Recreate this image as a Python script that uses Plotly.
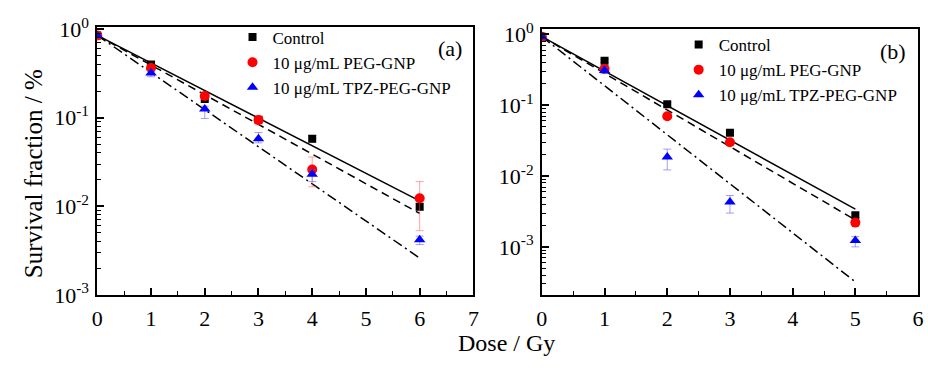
import plotly.graph_objects as go

# ---------------- data ----------------
names = ["Control", "10 μg/mL PEG-GNP", "10 μg/mL TPZ-PEG-GNP"]

# panel (a)
dose_a = [0, 1, 2, 3, 4, 6]
ctrl_a = [0.85, 0.40, 0.163, 0.095, 0.058, 0.0099]
ctrl_a_err = [0.02, 0.02, 0.008, 0.006, 0.005, 0.0008]
peg_a = [0.85, 0.365, 0.176, 0.094, 0.026, 0.0123]
peg_a_up = [0.02, 0.02, 0.01, 0.008, 0.010, 0.0067]
peg_a_dn = [0.02, 0.02, 0.01, 0.011, 0.0094, 0.0070]
tpz_a = [0.85, 0.32, 0.125, 0.058, 0.023, 0.0042]
tpz_a_up = [0.02, 0.02, 0.01, 0.010, 0.003, 0.0004]
tpz_a_dn = [0.02, 0.03, 0.027, 0.006, 0.004, 0.0005]
fit_a_x = [0, 6]
fit_a_ctrl = [0.85, 0.0115]
fit_a_peg = [0.85, 0.0083]
fit_a_tpz = [0.85, 0.0026]

# panel (b)
dose_b = [0, 1, 2, 3, 5]
ctrl_b = [0.93, 0.425, 0.103, 0.041, 0.0028]
ctrl_b_err = [0.02, 0.02, 0.006, 0.003, 0.0002]
peg_b = [0.93, 0.326, 0.070, 0.030, 0.0022]
peg_b_err = [0.02, 0.02, 0.004, 0.002, 0.0002]
tpz_b = [0.93, 0.31, 0.0185, 0.0043, 0.00123]
tpz_b_up = [0.02, 0.03, 0.0055, 0.0010, 0.00017]
tpz_b_dn = [0.02, 0.03, 0.0063, 0.0013, 0.00023]
fit_b_x = [0, 5]
fit_b_ctrl = [0.93, 0.0034]
fit_b_peg = [0.93, 0.0024]
fit_b_tpz = [0.93, 0.00032]

# ---------------- style ----------------
FONT = "Liberation Serif"
colors = ["#000000", "#ff0000", "#0000ff"]
err_colors = ["rgba(90,90,90,0.6)", "rgba(255,90,90,0.55)", "rgba(80,80,255,0.55)"]
symbols = ["square", "circle", "triangle-up"]
sizes = [8, 10, 10]
dashes = ["solid", "8px,5px", "10px,4px,2px,4px"]

fig = go.Figure()


def add_panel(xa, ya, legend, dose, ys, ups, dns, fx, fys):
    for i in range(3):
        fig.add_trace(go.Scatter(
            x=fx, y=fys[i], mode="lines", xaxis=xa, yaxis=ya,
            line=dict(color="black", width=1.5, dash=dashes[i]),
            showlegend=False, hoverinfo="skip"))
    for i in range(3):
        fig.add_trace(go.Scatter(
            x=dose, y=ys[i], mode="markers", name=names[i], xaxis=xa, yaxis=ya,
            legend=legend,
            marker=dict(symbol=symbols[i], size=sizes[i], color=colors[i], line=dict(width=0)),
            error_y=dict(type="data", symmetric=False, array=ups[i], arrayminus=dns[i],
                         color=err_colors[i], thickness=1, width=4)))


add_panel("x", "y", "legend", dose_a,
          [ctrl_a, peg_a, tpz_a],
          [ctrl_a_err, peg_a_up, tpz_a_up],
          [ctrl_a_err, peg_a_dn, tpz_a_dn],
          fit_a_x, [fit_a_ctrl, fit_a_peg, fit_a_tpz])
add_panel("x2", "y2", "legend2", dose_b,
          [ctrl_b, peg_b, tpz_b],
          [ctrl_b_err, peg_b_err, tpz_b_up],
          [ctrl_b_err, peg_b_err, tpz_b_dn],
          fit_b_x, [fit_b_ctrl, fit_b_peg, fit_b_tpz])

W, H = 928, 374


def px_x(p):
    return p / W


def px_y(p):
    return 1 - p / H


major_vals = [1e-3, 1e-2, 1e-1, 1]
major_text = ["10<sup>-3</sup>", "10<sup>-2</sup>", "10<sup>-1</sup>", "10<sup>0</sup>"]
minor_vals = [m * 10 ** e for e in range(-4, 0) for m in range(2, 10)]

tickfont = dict(family=FONT, size=22, color="black")
common_x = dict(showline=True, linecolor="black", linewidth=1.7, mirror=True,
                ticks="inside", ticklen=7, tickwidth=1.5, tickcolor="black",
                showgrid=False, zeroline=False, dtick=1, tick0=0,
                tickfont=tickfont, ticklabelstandoff=3,
                minor=dict(ticks="inside", dtick=0.5, ticklen=4, tickwidth=1.3,
                           tickcolor="black", showgrid=False))
common_y = dict(type="log", showline=True, linecolor="black", linewidth=1.7, mirror=True,
                ticks="inside", ticklen=7, tickwidth=1.5, tickcolor="black",
                showgrid=False, zeroline=False, tickmode="array",
                tickvals=major_vals, ticktext=major_text,
                tickfont=tickfont, ticklabelstandoff=2,
                minor=dict(ticks="inside", tickmode="array", tickvals=minor_vals,
                           ticklen=4, tickwidth=1.3, tickcolor="black", showgrid=False))

legfont = dict(family=FONT, size=17, color="black")


def ann(text, x, y, size, angle=0):
    return dict(text=text, x=px_x(x), y=px_y(y), xref="paper", yref="paper",
                xanchor="center", yanchor="middle", showarrow=False, textangle=angle,
                font=dict(family=FONT, size=size, color="black"))


fig.update_layout(
    width=W, height=H,
    margin=dict(l=0, r=0, t=0, b=0),
    plot_bgcolor="white", paper_bgcolor="white",
    xaxis=dict(common_x, domain=[px_x(93.3), px_x(473.5)], range=[0, 7], anchor="y"),
    yaxis=dict(common_y, domain=[px_y(302.7), px_y(14.3)], range=[-3, 0.021], anchor="x"),
    xaxis2=dict(common_x, domain=[px_x(542.7), px_x(923)], range=[0, 6], anchor="y2"),
    yaxis2=dict(common_y, domain=[px_y(302.7), px_y(16)], range=[-3.678, 0.079], anchor="x2"),
    legend=dict(x=px_x(230), y=px_y(6), xanchor="left", yanchor="top",
                bgcolor="rgba(0,0,0,0)", borderwidth=0, tracegroupgap=0,
                font=legfont),
    legend2=dict(x=px_x(681), y=px_y(14), xanchor="left", yanchor="top",
                 bgcolor="rgba(0,0,0,0)", borderwidth=0, tracegroupgap=0,
                 font=legfont),
    font=dict(family=FONT, color="black"),
    annotations=[
        ann("(a)", 450, 37, 22),
        ann("(b)", 898, 40, 22),
        ann("Survival fraction / %", 29, 172, 25, -90),
        ann("Dose / Gy", 507, 355, 24),
    ],
)

fig.write_html("out.html")
